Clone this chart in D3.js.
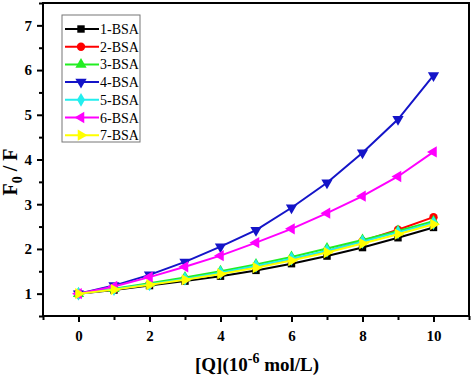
<!DOCTYPE html>
<html>
<head>
<meta charset="utf-8">
<script src="https://d3js.org/d3.v7.min.js"></script>
<style>
  body { margin: 0; background: #fff; }
  svg { display: block; font-family: "Liberation Serif", "DejaVu Serif", serif; }
</style>
</head>
<body>
<svg width="474" height="375"></svg>
<script>
// concentration of Q (10^-6 mol/L)
var conc = [0, 1, 2, 3, 4, 5, 6, 7, 8, 9, 10];

var names = ["1-BSA", "2-BSA", "3-BSA", "4-BSA", "5-BSA", "6-BSA", "7-BSA"];
var colors = ["#000000", "#ff0000", "#22ee22", "#1414c8", "#22eeee", "#ff00ff", "#ffff00"];

var bsa1 = [1, 1.08, 1.18, 1.28, 1.39, 1.52, 1.67, 1.84, 2.03, 2.25, 2.48];
var bsa2 = [1, 1.10, 1.21, 1.33, 1.46, 1.60, 1.76, 1.95, 2.18, 2.43, 2.71];
var bsa3 = [1, 1.11, 1.23, 1.36, 1.50, 1.65, 1.82, 2.01, 2.20, 2.40, 2.62];
var bsa4 = [1, 1.18, 1.42, 1.71, 2.05, 2.42, 2.92, 3.48, 4.15, 4.90, 5.88];
var bsa5 = [1, 1.10, 1.21, 1.33, 1.47, 1.62, 1.78, 1.96, 2.16, 2.37, 2.58];
var bsa6 = [1, 1.16, 1.37, 1.60, 1.85, 2.14, 2.45, 2.80, 3.18, 3.62, 4.17];
var bsa7 = [1, 1.09, 1.20, 1.31, 1.44, 1.58, 1.74, 1.92, 2.12, 2.33, 2.55];

var xTicks = [0, 2, 4, 6, 8, 10];
var yTicks = [1, 2, 3, 4, 5, 6, 7];

var series = [bsa1, bsa2, bsa3, bsa4, bsa5, bsa6, bsa7];

var svg = d3.select("svg");
var margin = {top: 3, right: 5, bottom: 59, left: 43},
    width = 474 - margin.left - margin.right,
    height = 375 - margin.top - margin.bottom;

var x = d3.scaleLinear().domain([-1, 11]).range([0, width]);
var y = d3.scaleLinear().domain([0.5, 7.5]).range([height, 0]);

var g = svg.append("g").attr("transform", "translate(" + margin.left + "," + margin.top + ")");

// marker shapes
var sz = 55;
var triUp = d3.symbol().type(d3.symbolTriangle).size(sz)();
var shapes = [
  {sym: d3.symbol().type(d3.symbolSquare).size(sz)(), rot: 0},
  {sym: d3.symbol().type(d3.symbolCircle).size(sz)(), rot: 0},
  {sym: triUp, rot: 0},
  {sym: triUp, rot: 180},
  {sym: d3.symbol().type(d3.symbolDiamond).size(sz)(), rot: 0},
  {sym: triUp, rot: -90},
  {sym: triUp, rot: 90}
];

var line = d3.line()
  .x(function(d, i) { return x(conc[i]); })
  .y(function(d) { return y(d); });

series.forEach(function(vals, k) {
  var s = g.append("g");
  s.append("path")
    .attr("d", line(vals))
    .attr("fill", "none")
    .attr("stroke", colors[k])
    .attr("stroke-width", 2);
  s.selectAll("path.m")
    .data(vals)
    .enter().append("path")
    .attr("class", "m")
    .attr("d", shapes[k].sym)
    .attr("transform", function(d, i) {
      return "translate(" + x(conc[i]) + "," + y(d) + ") rotate(" + shapes[k].rot + ")";
    })
    .attr("fill", colors[k]);
});

// frame
g.append("rect")
  .attr("width", width).attr("height", height)
  .attr("fill", "none").attr("stroke", "#000").attr("stroke-width", 2);

// axes
var xAxis = g.append("g").attr("transform", "translate(0," + height + ")")
  .call(d3.axisBottom(x).tickValues(xTicks).tickSize(6).tickPadding(8).tickFormat(d3.format("d")));
var xMinor = g.append("g").attr("transform", "translate(0," + height + ")")
  .call(d3.axisBottom(x).tickValues(d3.range(-1, 12, 1).filter(function(v) { return xTicks.indexOf(v) < 0; })).tickSize(4).tickFormat(""));
var yAxis = g.append("g")
  .call(d3.axisLeft(y).tickValues(yTicks).tickSize(6).tickPadding(5).tickFormat(d3.format("d")));
var yMinor = g.append("g")
  .call(d3.axisLeft(y).tickValues(d3.range(0.5, 7.6, 0.5).filter(function(v) { return yTicks.indexOf(v) < 0; })).tickSize(4).tickFormat(""));

[xAxis, xMinor, yAxis, yMinor].forEach(function(a) {
  a.select(".domain").remove();
  a.selectAll("line").attr("stroke", "#000").attr("stroke-width", 2);
  a.selectAll("text")
    .attr("fill", "#000")
    .style("font-family", "'Liberation Serif', serif")
    .style("font-size", "15px")
    .style("font-weight", "bold");
});

// axis titles
var xt = svg.append("text")
  .attr("x", 257).attr("y", 371)
  .attr("text-anchor", "middle")
  .style("font-size", "19px").style("font-weight", "bold");
xt.append("tspan").text("[Q](10");
xt.append("tspan").attr("dy", -8).style("font-size", "14px").text("-6");
xt.append("tspan").attr("dy", 8).text(" mol/L)");

var yt = svg.append("text")
  .attr("transform", "translate(17,172) rotate(-90)")
  .attr("text-anchor", "middle")
  .style("font-size", "20px").style("font-weight", "bold");
yt.append("tspan").text("F");
yt.append("tspan").attr("dy", 5).style("font-size", "14px").text("0");
yt.append("tspan").attr("dy", -5).text(" / F");

// legend
var leg = svg.append("g").attr("transform", "translate(62,15)");
leg.append("rect")
  .attr("width", 78).attr("height", 127)
  .attr("fill", "#fff").attr("stroke", "#777").attr("stroke-width", 1);
names.forEach(function(n, k) {
  var row = leg.append("g").attr("transform", "translate(0," + (14 + k * 17.7) + ")");
  row.append("line").attr("x1", 3).attr("x2", 37).attr("y1", 0).attr("y2", 0)
    .attr("stroke", colors[k]).attr("stroke-width", 2);
  row.append("path").attr("d", shapes[k].sym)
    .attr("transform", "translate(19,0) rotate(" + shapes[k].rot + ")")
    .attr("fill", colors[k]);
  row.append("text").attr("x", 38).attr("y", 5)
    .style("font-size", "14px").text(n);
});
</script>
</body>
</html>
